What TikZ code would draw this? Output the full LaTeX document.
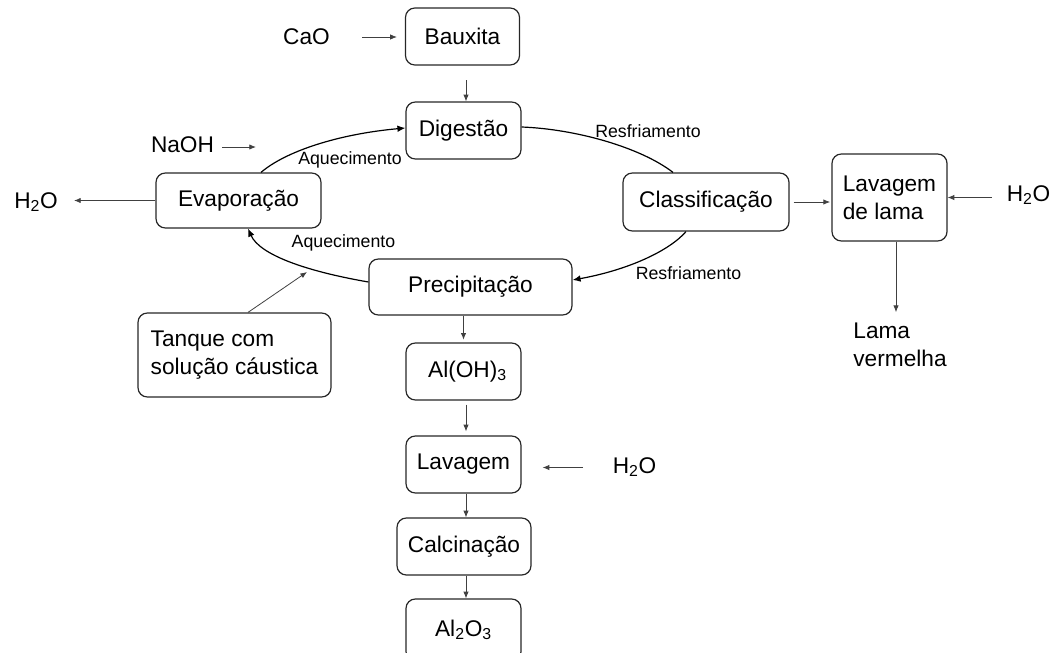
\documentclass[tikz,border=0pt]{standalone}
\usepackage{fontspec}
\setmainfont{Liberation Sans}
\usetikzlibrary{arrows.meta,calc}
\newcommand\bigf{\fontsize{17}{21}\selectfont}
\newcommand\smlf{\fontsize{13.3}{16}\selectfont}
\begin{document}
\begin{tikzpicture}[x=0.75pt,y=-0.75pt,
  box/.style={draw=black!85, line width=0.9pt, rounded corners=7pt, inner sep=0pt, align=center, font=\bigf},
  txt/.style={inner sep=0pt, font=\bigf},
  lbl/.style={inner sep=0pt, font=\smlf},
  arr/.style={draw=black!75, line width=0.6pt, -{Latex[length=5pt,width=4pt]}},
  cyc/.style={draw=black, line width=0.9pt},
  cyca/.style={cyc, -{Latex[length=6pt,width=5pt]}}
]
\useasboundingbox (0,0) rectangle (1053,653);
\clip (0,0) rectangle (1053,653);

% process boxes
\node[box, minimum width=85.5pt, minimum height=42.75pt] (bau) at (462.5,36.5) {Bauxita};
\node[box, minimum width=86.25pt, minimum height=42.75pt] (dig) at (463.5,130.5) {Digestão};
\node[box, minimum width=123.75pt, minimum height=41.25pt] (eva) at (238.5,200.5) {Evaporação};
\node[box, minimum width=124.5pt, minimum height=43.5pt] (cla) at (706,202) {Classificação};
\node[box, minimum width=86.25pt, minimum height=65.25pt, align=left] (lvl) at (889.5,197.5) {Lavagem\\de lama};
\node[box, minimum width=152.25pt, minimum height=42pt] (pre) at (470.5,287) {Precipitação};
\node[box, minimum width=144.75pt, minimum height=63pt, align=left] (tan) at (234.5,355) {Tanque com\\solução cáustica};
\node[box, minimum width=86.25pt, minimum height=42.75pt] (aoh) at (463.5,371.5) {\hspace{6pt}Al(OH)\textsubscript{3}};
\node[box, minimum width=86.25pt, minimum height=42.75pt] (lav) at (463.5,464.5) {Lavagem};
\node[box, minimum width=100.5pt, minimum height=42.75pt] (cal) at (464,546.5) {Calcinação};
\node[box, minimum width=86.25pt, minimum height=46.5pt] (alo) at (463.5,630) {Al\textsubscript{2}O\textsubscript{3}};

% free texts
\node[txt] (cao) at (306.5,37) {CaO};
\node[txt] (naoh) at (182.5,145) {NaOH};
\node[txt] (h2oL) at (36,202) {H\textsubscript{2}O};
\node[txt] (h2oR) at (1028.5,195) {H\textsubscript{2}O};
\node[txt] (h2oM) at (634.5,467) {H\textsubscript{2}O};
\node[txt, align=left] (lama) at (900,345) {Lama\\vermelha};

% cycle labels
\node[lbl] (aq1) at (350,160) {Aquecimento};
\node[lbl] (aq2) at (343.5,243) {Aquecimento};
\node[lbl] (rf1) at (648,131) {Resfriamento};
\node[lbl] (rf2) at (688.5,273) {Resfriamento};

% cycle curves
\draw[cyca] ($(eva.north)+(22.5,0)$) .. controls (286,151) and (339,134) .. ($(dig.west)+(0,-2.5)$);
\draw[cyc] ($(dig.east)+(0,-3.5)$) .. controls (575,129) and (640,147) .. ($(cla.north)+(-33,0)$);
\draw[cyca] ($(cla.south)+(-20,0)$) .. controls (669,251) and (628,270) .. ($(pre.east)+(0,-7)$);
\draw[cyca] ($(pre.west)+(0,-5)$) .. controls (305,271) and (259.6,254.6) .. ($(eva.south)+(9.5,0)$);

% straight connectors
\draw[arr, shorten <=24pt, shorten >=6pt] (cao.east) -- (cao.east -| bau.west);
\draw[arr, shorten <=11pt] ($(bau.south)+(3.5,0)$) -- ($(dig.north)+(2.5,0)$);
\coordinate (naohtip) at (256,147);
\draw[arr, shorten <=6pt] (naoh.east |- naohtip) -- (naohtip);
\draw[arr, shorten >=12pt] (eva.west) -- (eva.west -| h2oL.east);
\draw[arr, shorten <=3pt, shorten >=1pt] (cla.east) -- (cla.east -| lvl.west);
\draw[arr, shorten <=11pt] (lvl.east -| h2oR.west) -- (lvl.east);
\coordinate (lvlb) at ($(lvl.south)+(6.5,0)$);
\draw[arr, shorten >=8pt] (lvlb) -- (lvlb |- lama.north);
\coordinate (tanktip) at (307,272);
\draw[arr] ($(tan.north)+(13.5,0)$) -- (tanktip);
\draw[arr, shorten >=2pt] (pre.south -| aoh.north) -- (aoh.north);
\draw[arr, shorten <=3pt, shorten >=3pt] ($(aoh.south)+(2.5,0)$) -- ($(lav.north)+(2.5,0)$);
\coordinate (lavr) at ($(lav.east)+(0,3)$);
\draw[arr, shorten <=22pt, shorten >=15.75pt] (lavr -| h2oM.west) -- (lavr);
\draw[arr] ($(lav.south)+(2.5,0)$) -- ($(cal.north)+(2,0)$);
\draw[arr] ($(cal.south)+(2,0)$) -- ($(alo.north)+(2.5,0)$);
\end{tikzpicture}
\end{document}
